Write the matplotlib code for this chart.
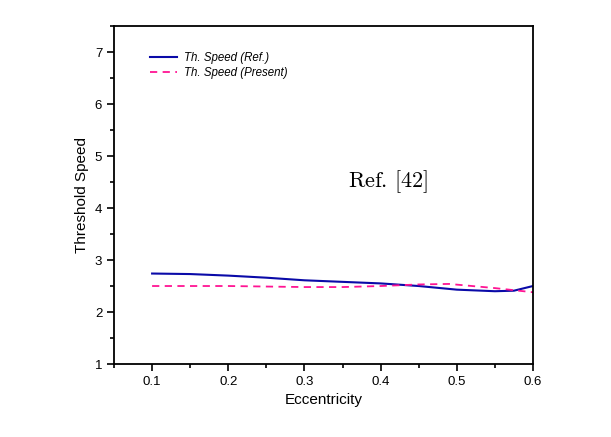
import matplotlib
matplotlib.use("Agg")
import matplotlib.pyplot as plt
from matplotlib.ticker import MultipleLocator

# eccentricity values and threshold speeds
ecc_ref = [0.1, 0.15, 0.2, 0.25, 0.3, 0.35, 0.4, 0.45, 0.5, 0.55, 0.575, 0.6]
speed_ref = [2.74, 2.73, 2.70, 2.66, 2.61, 2.58, 2.55, 2.50, 2.43, 2.40, 2.41, 2.50]

ecc_present = [0.1, 0.2, 0.3, 0.35, 0.4, 0.45, 0.49, 0.55, 0.6]
speed_present = [2.50, 2.50, 2.48, 2.48, 2.50, 2.53, 2.54, 2.46, 2.38]

plt.rcParams["font.family"] = ["Liberation Sans", "DejaVu Sans"]
plt.rcParams["mathtext.fontset"] = "cm"

fig = plt.figure(figsize=(6.11, 4.37), dpi=100)
ax = fig.add_axes([0.1866, 0.167, 0.6857, 0.7735])

ax.plot(ecc_ref, speed_ref, color="#0a0aa8", lw=1.5, label="Th. Speed (Ref.)")
ax.plot(ecc_present, speed_present, color="#ff1493", lw=1.3, ls=(0, (4, 3)),
        label="Th. Speed (Present)")

ax.set_xlim(0.05, 0.6)
ax.set_ylim(1, 7.5)
ax.xaxis.set_major_locator(MultipleLocator(0.1))
ax.xaxis.set_minor_locator(MultipleLocator(0.05))
ax.yaxis.set_major_locator(MultipleLocator(1))
ax.yaxis.set_minor_locator(MultipleLocator(0.5))
ax.tick_params(which="both", direction="out", top=False, right=False,
               labelsize=9.5, width=1.2)
ax.tick_params(which="major", length=5)
ax.tick_params(which="minor", length=3)
for s in ax.spines.values():
    s.set_linewidth(1.3)

ax.set_xlabel("Eccentricity", fontsize=11)
ax.set_ylabel("Threshold Speed", fontsize=11)

leg = ax.legend(loc="upper left", bbox_to_anchor=(0.06, 0.955), frameon=False,
                prop={"style": "italic", "size": 8.3}, handlelength=2.4,
                handletextpad=0.6, labelspacing=0.3)

ax.text(0.654, 0.54, r"$\mathrm{Ref.\,[42]}$", transform=ax.transAxes,
        fontsize=16, ha="center", va="center",
        bbox=dict(facecolor="white", edgecolor="none", pad=10))

fig.savefig("out.png", dpi=100)
